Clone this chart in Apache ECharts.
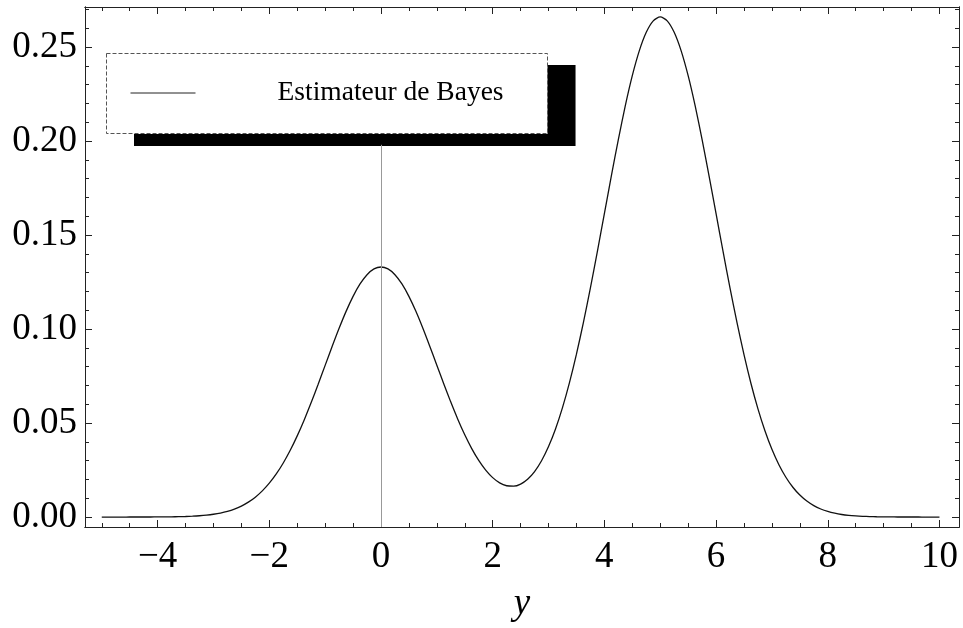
<!DOCTYPE html>
<html>
<head>
<meta charset="utf-8">
<title>Estimateur de Bayes</title>
<script src="https://cdn.jsdelivr.net/npm/echarts@6/dist/echarts.min.js"></script>
<style>
    html, body { margin: 0; padding: 0; background: #fff; }
    #chart { width: 963px; height: 628px; }
</style>
</head>
<body>
<div id="chart"></div>
<script>
// densite lue sur la figure, pas de 0.125
const xValues = [
    -5, -4.875, -4.75, -4.625, -4.5, -4.375, -4.25, -4.125, -4, -3.875, -3.75, -3.625, -3.5, -3.375, -3.25, -3.125,
    -3, -2.875, -2.75, -2.625, -2.5, -2.375, -2.25, -2.125, -2, -1.875, -1.75, -1.625, -1.5, -1.375, -1.25, -1.125,
    -1, -0.875, -0.75, -0.625, -0.5, -0.375, -0.25, -0.125, 0, 0.125, 0.25, 0.375, 0.5, 0.625, 0.75, 0.875,
    1, 1.125, 1.25, 1.375, 1.5, 1.625, 1.75, 1.875, 2, 2.125, 2.25, 2.375, 2.5, 2.625, 2.75, 2.875,
    3, 3.125, 3.25, 3.375, 3.5, 3.625, 3.75, 3.875, 4, 4.125, 4.25, 4.375, 4.5, 4.625, 4.75, 4.875,
    5, 5.125, 5.25, 5.375, 5.5, 5.625, 5.75, 5.875, 6, 6.125, 6.25, 6.375, 6.5, 6.625, 6.75, 6.875,
    7, 7.125, 7.25, 7.375, 7.5, 7.625, 7.75, 7.875, 8, 8.125, 8.25, 8.375, 8.5, 8.625, 8.75, 8.875,
    9, 9.125, 9.25, 9.375, 9.5, 9.625, 9.75, 9.875, 10
];
const bayesValues = [
    0, 0, 0, 0, 0.00001, 0.00001, 0.00002, 0.00003, 0.00004, 0.00007, 0.00012, 0.00019, 0.00029, 0.00045, 0.00068, 0.00101,
    0.00148, 0.00213, 0.00303, 0.00424, 0.00584, 0.00793, 0.01058, 0.01391, 0.018, 0.02293, 0.02876, 0.03552, 0.04318, 0.05168, 0.06089, 0.07064,
    0.08067, 0.0907, 0.10039, 0.1094, 0.11737, 0.12397, 0.12891, 0.13197, 0.133, 0.13197, 0.12891, 0.12398, 0.11738, 0.10942, 0.10042, 0.09075,
    0.08076, 0.07079, 0.06113, 0.05205, 0.04376, 0.03641, 0.03011, 0.02495, 0.02096, 0.01818, 0.01664, 0.01641, 0.01753, 0.02009, 0.02419, 0.02995,
    0.03748, 0.04687, 0.05821, 0.07149, 0.08665, 0.10355, 0.1219, 0.14134, 0.16138, 0.18143, 0.20081, 0.21882, 0.23476, 0.24794, 0.25782, 0.26393,
    0.266, 0.26393, 0.25782, 0.24794, 0.23475, 0.21881, 0.20079, 0.1814, 0.16134, 0.14127, 0.12178, 0.10336, 0.08636, 0.07104, 0.05753, 0.04586,
    0.036, 0.02782, 0.02116, 0.01585, 0.01169, 0.00848, 0.00606, 0.00427, 0.00296, 0.00202, 0.00135, 0.00089, 0.00058, 0.00037, 0.00024, 0.00015,
    0.00009, 0.00005, 0.00003, 0.00002, 0.00001, 0.00001, 0, 0, 0
];
const xMajorTicks = [-4, -2, 0, 2, 4, 6, 8, 10];
const xMinorTicks = [-5, -4.5, -3.5, -3, -2.5, -1.5, -1, -0.5, 0.5, 1, 1.5, 2.5, 3, 3.5, 4.5, 5, 5.5, 6.5, 7, 7.5, 8.5, 9, 9.5];
const yMajorTicks = [0, 0.05, 0.1, 0.15, 0.2, 0.25];
const yMinorTicks = [0.01, 0.02, 0.03, 0.04, 0.06, 0.07, 0.08, 0.09, 0.11, 0.12, 0.13, 0.14,
    0.16, 0.17, 0.18, 0.19, 0.21, 0.22, 0.23, 0.24, 0.26, 0.27];

const X_MIN = -5.3, X_MAX = 10.35;
const Y_MIN = -0.0053, Y_MAX = 0.2713;
const FONT = "'Liberation Serif', 'DejaVu Serif', serif";

function frameAxis(kind, position, ticks, len, withLabels) {
    const isX = kind === 'x';
    const ax = {
        type: 'value',
        position: position,
        min: isX ? X_MIN : Y_MIN,
        max: isX ? X_MAX : Y_MAX,
        splitLine: { show: false },
        axisLine: { show: true, onZero: false, lineStyle: { color: '#222', width: 1 } },
        axisTick: { show: true, inside: true, length: len, customValues: ticks, lineStyle: { color: '#222', width: 1 } },
        axisLabel: { show: false }
    };
    if (withLabels) {
        ax.axisLabel = {
            show: true,
            customValues: ticks,
            fontFamily: FONT,
            fontSize: 37,
            color: '#000',
            margin: isX ? 12 : 8,
            formatter: isX
                ? v => (v < 0 ? '\u2212' + Math.abs(v) : String(v))
                : v => v.toFixed(2)
        };
    }
    return ax;
}

const xAxes = [
    frameAxis('x', 'bottom', xMajorTicks, 7, true),
    frameAxis('x', 'bottom', xMinorTicks, 4, false),
    frameAxis('x', 'top', xMajorTicks, 7, false),
    frameAxis('x', 'top', xMinorTicks, 4, false)
];
xAxes[0].name = 'y';
xAxes[0].nameLocation = 'middle';
xAxes[0].nameGap = 59;
xAxes[0].nameTextStyle = { fontFamily: FONT, fontStyle: 'italic', fontSize: 37, color: '#000' };

const yAxes = [
    frameAxis('y', 'left', yMajorTicks, 7, true),
    frameAxis('y', 'left', yMinorTicks, 4, false),
    frameAxis('y', 'right', yMajorTicks, 7, false),
    frameAxis('y', 'right', yMinorTicks, 4, false)
];

const chart = echarts.init(document.getElementById('chart'));
chart.setOption({
    animation: false,
    backgroundColor: '#fff',
    grid: { left: 85, right: 4, top: 7, bottom: 100, containLabel: false },
    xAxis: xAxes,
    yAxis: yAxes,
    legend: {
        left: 106,
        top: 53,
        orient: 'vertical',
        padding: [26, 44, 27, 24],
        itemWidth: 65,
        itemHeight: 30,
        backgroundColor: '#fff',
        borderWidth: 0,
        shadowColor: '#000',
        shadowBlur: 0,
        shadowOffsetX: 28,
        shadowOffsetY: 12,
        itemStyle: { opacity: 0 },
        lineStyle: { color: '#222', width: 1 },
        formatter: name => '{t|' + name + '}',
        textStyle: {
            rich: { t: { fontFamily: FONT, fontSize: 27.5, color: '#000', padding: [0, 0, 0, 77] } }
        }
    },
    graphic: [{
        // cadre de la legende, sans ombre
        type: 'rect',
        z: 100,
        silent: true,
        shape: { x: 106.5, y: 53.5, width: 441, height: 80 },
        style: { fill: null, stroke: '#555', lineWidth: 1, lineDash: [4, 2] }
    }],
    series: [{
        name: 'Estimateur de Bayes',
        type: 'line',
        xAxisIndex: 0,
        yAxisIndex: 0,
        data: xValues.map((x, i) => [x, bayesValues[i]]),
        symbol: 'none',
        smooth: 0.25,
        itemStyle: { color: '#111' },
        lineStyle: { color: '#111', width: 1.3 },
        markLine: {
            silent: true,
            symbol: ['none', 'none'],
            label: { show: false },
            lineStyle: { color: '#999', width: 1, type: 'solid' },
            data: [[{ coord: [0, Y_MIN] }, { coord: [0, 0.198] }]]
        }
    }]
});
</script>
</body>
</html>
